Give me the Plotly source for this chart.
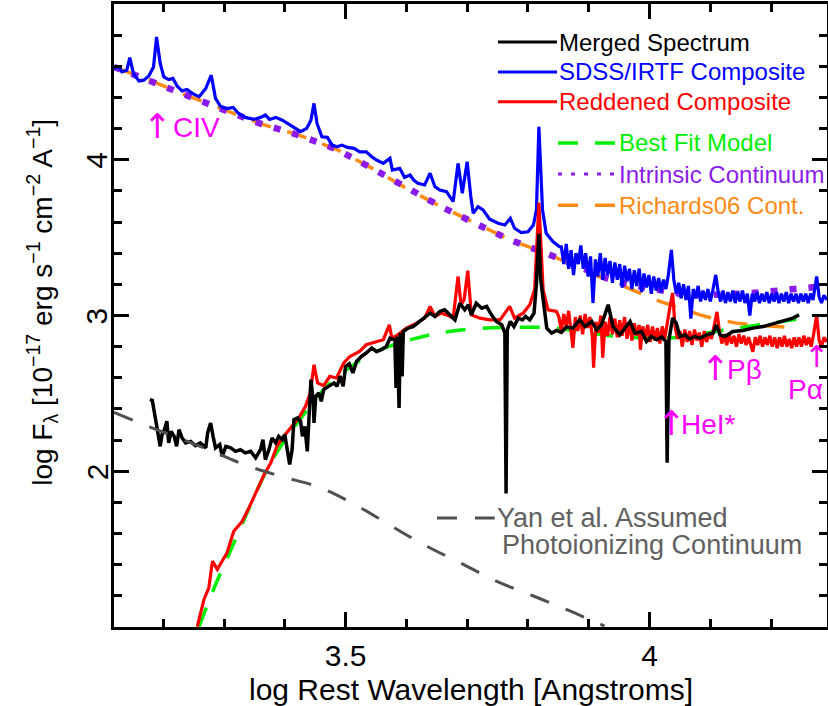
import plotly.graph_objects as go

# ---------------- data (log wavelength, log flux) ----------------
merged_x = [3.178, 3.182, 3.186, 3.190, 3.195, 3.198, 3.202, 3.206, 3.209, 3.213,
            3.218, 3.222, 3.226, 3.231, 3.237, 3.245, 3.253, 3.261, 3.270, 3.273,
            3.278, 3.282, 3.286, 3.293, 3.297, 3.303, 3.311, 3.319, 3.327, 3.335,
            3.344, 3.352, 3.360, 3.364, 3.368, 3.374, 3.379, 3.385, 3.390, 3.396,
            3.400, 3.404, 3.408, 3.412, 3.415, 3.421, 3.426, 3.429, 3.433, 3.437,
            3.440, 3.443, 3.447, 3.448, 3.451, 3.456, 3.460, 3.464, 3.472, 3.481,
            3.486, 3.491, 3.496, 3.500, 3.506, 3.512, 3.518, 3.526, 3.534, 3.543,
            3.551, 3.559, 3.567, 3.573, 3.581, 3.583, 3.585, 3.588, 3.590, 3.593,
            3.595, 3.603, 3.611, 3.622, 3.632, 3.639, 3.647, 3.655, 3.663, 3.671,
            3.680, 3.688, 3.696, 3.702, 3.707, 3.715, 3.724, 3.732, 3.740, 3.748,
            3.757, 3.762, 3.764, 3.766, 3.771, 3.777, 3.784, 3.791, 3.796, 3.803,
            3.810, 3.814, 3.818, 3.821, 3.826, 3.831, 3.839, 3.847, 3.855, 3.863,
            3.874, 3.885, 3.894, 3.905, 3.913, 3.921, 3.932, 3.940, 3.951, 3.959,
            3.968, 3.976, 3.987, 3.995, 4.003, 4.012, 4.020, 4.027, 4.029, 4.032,
            4.038, 4.044, 4.050, 4.058, 4.066, 4.074, 4.083, 4.094, 4.105, 4.110,
            4.116, 4.124, 4.137, 4.154, 4.170, 4.187, 4.203, 4.220, 4.236, 4.246]
merged_y = [2.460, 2.455, 2.364, 2.267, 2.160, 2.235, 2.267, 2.321, 2.182, 2.256,
            2.224, 2.160, 2.267, 2.214, 2.182, 2.192, 2.165, 2.182, 2.150, 2.246,
            2.310, 2.224, 2.150, 2.171, 2.096, 2.160, 2.150, 2.128, 2.139, 2.118,
            2.128, 2.086, 2.139, 2.203, 2.075, 2.139, 2.214, 2.182, 2.224, 2.203,
            2.235, 2.139, 2.043, 2.139, 2.331, 2.342, 2.321, 2.224, 2.288, 2.128,
            2.353, 2.588, 2.438, 2.310, 2.481, 2.502, 2.449, 2.524, 2.545, 2.567,
            2.545, 2.612, 2.545, 2.673, 2.690, 2.631, 2.705, 2.737, 2.759, 2.791,
            2.769, 2.780, 2.801, 2.855, 2.844, 2.535, 2.865, 2.406, 2.887, 2.609,
            2.897, 2.919, 2.929, 2.962, 2.994, 3.015, 2.994, 3.026, 3.037, 3.004,
            2.972, 3.079, 3.037, 3.069, 3.004, 3.079, 3.047, 3.058, 3.004, 2.962,
            2.940, 2.887, 1.857, 2.908, 2.962, 2.929, 2.983, 2.972, 2.994, 2.972,
            3.015, 3.208, 3.524, 3.229, 3.058, 2.919, 2.887, 2.904, 2.891, 2.926,
            2.919, 2.972, 2.929, 2.962, 2.908, 2.940, 3.069, 2.929, 2.876, 2.919,
            2.962, 2.887, 2.897, 2.833, 2.865, 2.844, 2.862, 2.833, 2.054, 2.844,
            2.983, 2.951, 2.865, 2.876, 2.849, 2.865, 2.855, 2.876, 2.887, 2.940,
            2.876, 2.865, 2.897, 2.904, 2.919, 2.929, 2.947, 2.962, 2.983, 3.004]

sdss_x = [3.119, 3.127, 3.132, 3.140, 3.145, 3.151, 3.160, 3.168, 3.176, 3.184,
          3.189, 3.195, 3.201, 3.209, 3.216, 3.223, 3.231, 3.239, 3.248, 3.259,
          3.270, 3.279, 3.286, 3.294, 3.305, 3.315, 3.324, 3.335, 3.349, 3.360,
          3.368, 3.375, 3.385, 3.396, 3.409, 3.418, 3.426, 3.436, 3.443, 3.448,
          3.453, 3.461, 3.470, 3.478, 3.486, 3.494, 3.503, 3.514, 3.523, 3.534,
          3.543, 3.551, 3.562, 3.573, 3.577, 3.589, 3.597, 3.606, 3.612, 3.619,
          3.630, 3.639, 3.647, 3.655, 3.666, 3.677, 3.685, 3.692, 3.700, 3.706,
          3.710, 3.718, 3.726, 3.737, 3.751, 3.762, 3.771, 3.778, 3.789, 3.800,
          3.809, 3.814, 3.818, 3.824, 3.830, 3.841, 3.852,
          3.855, 3.859, 3.863, 3.867, 3.871, 3.875, 3.879, 3.883, 3.887, 3.891,
          3.895, 3.899, 3.903, 3.907, 3.911, 3.915, 3.919, 3.923, 3.927, 3.931,
          3.935, 3.939, 3.943, 3.947, 3.951, 3.955, 3.959, 3.963, 3.967, 3.971,
          3.975, 3.979, 3.983, 3.987, 3.991, 3.995, 3.999, 4.003, 4.007, 4.011,
          4.015, 4.019, 4.023, 4.027, 4.031, 4.036, 4.040, 4.044, 4.048, 4.052,
          4.056, 4.060, 4.064, 4.068, 4.072, 4.076, 4.080, 4.084, 4.088, 4.092,
          4.096, 4.100, 4.104, 4.109, 4.113, 4.117, 4.121, 4.125, 4.129, 4.133,
          4.137, 4.141, 4.145, 4.149, 4.153, 4.157, 4.161, 4.165, 4.169, 4.173,
          4.177, 4.181, 4.185, 4.189, 4.193, 4.197, 4.201, 4.205, 4.209, 4.213,
          4.217, 4.221, 4.225, 4.229, 4.233, 4.237, 4.241, 4.245, 4.249, 4.253,
          4.257, 4.261, 4.265, 4.269, 4.275, 4.279, 4.283, 4.287, 4.292]
sdss_y = [4.586, 4.596, 4.564, 4.575, 4.656, 4.554, 4.506, 4.511, 4.536, 4.596,
          4.788, 4.618, 4.532, 4.515, 4.522, 4.472, 4.442, 4.451, 4.426, 4.404,
          4.458, 4.543, 4.394, 4.344, 4.329, 4.336, 4.297, 4.272, 4.259, 4.272,
          4.287, 4.259, 4.272, 4.254, 4.222, 4.201, 4.180, 4.201, 4.254, 4.362,
          4.233, 4.147, 4.144, 4.094, 4.083, 4.094, 4.079, 4.073, 4.051, 4.051,
          4.019, 3.998, 3.977, 4.009, 3.934, 3.945, 3.887, 3.902, 3.870, 3.849,
          3.838, 3.913, 3.827, 3.806, 3.795, 3.731, 3.977, 3.785, 3.987, 3.763,
          3.656, 3.699, 3.678, 3.618, 3.592, 3.581, 3.624, 3.560, 3.532, 3.538,
          3.581, 3.678, 4.212, 3.678, 3.528, 3.475, 3.442,
          3.440, 3.330, 3.460, 3.300, 3.420, 3.260, 3.400, 3.330, 3.450, 3.300,
          3.400, 3.250, 3.380, 3.080, 3.360, 3.250, 3.400, 3.230, 3.370, 3.260,
          3.350, 3.210, 3.340, 3.230, 3.330, 3.180, 3.320, 3.220, 3.300, 3.170,
          3.290, 3.190, 3.300, 3.150, 3.270, 3.180, 3.260, 3.140, 3.250, 3.160,
          3.240, 3.150, 3.230, 3.170, 3.260, 3.421, 3.230, 3.140, 3.210, 3.110,
          3.200, 3.100, 3.190, 2.980, 3.170, 3.110, 3.190, 3.090, 3.160, 3.100,
          3.170, 3.090, 3.160, 3.261, 3.150, 3.090, 3.160, 3.080, 3.150, 3.090,
          3.160, 3.080, 3.150, 3.090, 3.160, 3.080, 3.140, 3.000, 3.140, 3.090,
          3.150, 3.080, 3.140, 3.090, 3.150, 3.080, 3.140, 3.090, 3.150, 3.080,
          3.140, 3.090, 3.150, 3.080, 3.140, 3.090, 3.140, 3.080, 3.140, 3.090,
          3.140, 3.080, 3.140, 3.100, 3.250, 3.120, 3.080, 3.130, 3.100]

redd_x = [3.256, 3.267, 3.275, 3.281, 3.289, 3.305, 3.316, 3.330, 3.341, 3.355,
          3.366, 3.377, 3.387, 3.398, 3.409, 3.423, 3.434, 3.442, 3.448, 3.454,
          3.464, 3.474, 3.485, 3.497, 3.507, 3.523, 3.534, 3.545, 3.562, 3.572,
          3.576, 3.586, 3.600, 3.617, 3.630, 3.639, 3.647, 3.658, 3.666, 3.677,
          3.685, 3.690, 3.695, 3.701, 3.707, 3.721, 3.737, 3.754, 3.770, 3.778,
          3.792, 3.803, 3.811, 3.818, 3.825, 3.833, 3.847,
          3.851, 3.855, 3.859, 3.863, 3.867, 3.871, 3.874, 3.878, 3.882, 3.886,
          3.890, 3.894, 3.898, 3.902, 3.906, 3.908, 3.912, 3.916, 3.920, 3.923,
          3.927, 3.931, 3.935, 3.939, 3.943, 3.947, 3.951, 3.955, 3.959, 3.963,
          3.967, 3.971, 3.975, 3.979, 3.983, 3.985, 3.989, 3.993, 3.997, 4.001,
          4.005, 4.009, 4.013, 4.017, 4.021, 4.025, 4.029, 4.033, 4.038, 4.042,
          4.046, 4.050, 4.054, 4.058, 4.062, 4.066, 4.070, 4.074, 4.078, 4.082,
          4.086, 4.090, 4.094, 4.098, 4.102, 4.106, 4.111, 4.115, 4.119, 4.123,
          4.127, 4.131, 4.135, 4.139, 4.143, 4.147, 4.151, 4.155, 4.159, 4.163,
          4.167, 4.170, 4.174, 4.178, 4.182, 4.186, 4.190, 4.194, 4.198, 4.202,
          4.206, 4.210, 4.214, 4.218, 4.222, 4.226, 4.230, 4.234, 4.238, 4.242,
          4.246, 4.250, 4.254, 4.258, 4.262, 4.266, 4.270, 4.275, 4.279, 4.283,
          4.287, 4.292]
redd_y = [1.002, 1.177, 1.252, 1.423, 1.370, 1.477, 1.615, 1.679, 1.765, 1.883,
          1.979, 2.054, 2.160, 2.224, 2.278, 2.342, 2.417, 2.502, 2.684, 2.567,
          2.549, 2.609, 2.599, 2.695, 2.737, 2.769, 2.812, 2.823, 2.844, 2.940,
          2.855, 2.876, 2.919, 2.951, 2.983, 3.058, 2.994, 3.015, 3.004, 2.983,
          3.250, 3.069, 3.101, 3.288, 3.004, 2.983, 2.972, 2.972, 3.058, 2.983,
          3.015, 3.069, 3.165, 3.724, 3.165, 3.036, 3.026,
          2.990, 2.900, 3.010, 2.930, 3.030, 2.880, 2.793, 2.990, 2.900, 3.000,
          2.880, 3.010, 2.920, 2.990, 2.860, 2.665, 2.960, 2.890, 3.000, 2.729,
          2.960, 2.870, 2.990, 2.880, 2.980, 2.860, 2.970, 2.870, 2.990, 2.850,
          2.960, 2.840, 2.950, 2.870, 2.940, 2.780, 2.930, 2.850, 2.940, 2.830,
          2.930, 2.840, 2.920, 2.820, 2.930, 2.850, 2.960, 3.040, 3.145, 2.930,
          2.850, 2.900, 2.800, 2.910, 2.830, 2.900, 2.810, 2.910, 2.840, 2.890,
          2.800, 2.900, 2.830, 2.890, 2.850, 2.920, 3.023, 2.900, 2.820, 2.880,
          2.810, 2.880, 2.820, 2.870, 2.800, 2.880, 2.820, 2.870, 2.810, 2.860,
          2.800, 2.767, 2.860, 2.810, 2.870, 2.800, 2.860, 2.810, 2.870, 2.800,
          2.860, 2.790, 2.860, 2.800, 2.870, 2.800, 2.850, 2.790, 2.860, 2.800,
          2.860, 2.800, 2.870, 2.810, 2.860, 2.800, 2.880, 3.004, 2.840, 2.800,
          2.860, 2.830]

best_x = [3.259, 3.284, 3.308, 3.333, 3.355, 3.377, 3.404, 3.431, 3.459, 3.491,
          3.545, 3.617, 3.683, 3.765, 3.847, 3.935, 4.038, 4.116, 4.181, 4.236, 4.269]
best_y = [1.003, 1.253, 1.466, 1.690, 1.883, 2.056, 2.224, 2.364, 2.503, 2.620,
          2.759, 2.855, 2.904, 2.923, 2.919, 2.870, 2.857, 2.902, 2.940, 2.972, 2.990]

intr_x = [3.119, 3.181, 3.241, 3.300, 3.362, 3.423, 3.485, 3.541, 3.598, 3.654,
          3.713, 3.771, 3.832, 3.862, 3.890, 3.929, 3.964, 4.017, 4.050, 4.083,
          4.110, 4.149, 4.178, 4.209, 4.241, 4.272, 4.292]
intr_y = [4.596, 4.505, 4.410, 4.319, 4.229, 4.158, 4.067, 3.951, 3.821, 3.705,
          3.592, 3.485, 3.396, 3.346, 3.299, 3.240, 3.200, 3.160, 3.140, 3.130,
          3.130, 3.140, 3.147, 3.158, 3.171, 3.182, 3.190]

rich_x = [3.119, 3.181, 3.241, 3.300, 3.362, 3.423, 3.485, 3.541, 3.598, 3.654,
          3.713, 3.771, 3.832, 3.862, 3.929, 3.964, 4.017, 4.050, 4.083, 4.110,
          4.143, 4.181, 4.214, 4.247]
rich_y = [4.596, 4.505, 4.410, 4.319, 4.229, 4.158, 4.067, 3.951, 3.821, 3.705,
          3.592, 3.485, 3.396, 3.346, 3.229, 3.178, 3.090, 3.049, 3.004, 2.977,
          2.951, 2.936, 2.926, 2.921]

yan_x = [3.119, 3.185, 3.267, 3.333, 3.393, 3.459, 3.515, 3.573, 3.628, 3.688,
         3.748, 3.809, 3.869, 3.926]
yan_y = [2.378, 2.273, 2.150, 2.043, 1.968, 1.894, 1.787, 1.654, 1.530, 1.413,
         1.295, 1.199, 1.103, 1.006]

y_tick_vals = [2, 3, 4]
x_tick_vals = [3.5, 4.0]
x_tick_text = ["3.5", "4"]

# line-identification labels: (arrow x, label text, text x, y)
line_ids = [
    (3.190, "CIV", 3.212, 4.209),
    (4.036, "HeI*", 4.049, 2.300),
    (4.109, "Pβ", 4.124, 2.652),
]
pa_arrow = (4.275, 2.735)
pa_text = ("Pα", 4.257, 2.524)

legend_items = [
    ("Merged Spectrum", "black", "solid", 3),
    ("SDSS/IRTF Composite", "#0000FF", "solid", 3),
    ("Reddened Composite", "#FF0000", "solid", 3),
    ("Best Fit Model", "#00EE00", "20px,17px", 3.5),
    ("Intrinsic Continuum", "#8A1BEA", "4px,9px", 3),
    ("Richards06 Cont.", "#FF8A14", "20px,17px", 3.5),
]

# ---------------- figure ----------------
FONT = "Liberation Sans, Arial, Helvetica, sans-serif"
ORANGE = "#FF8A14"
PURPLE = "#8A1BEA"
GREEN = "#00EE00"
GREY = "#505050"
MAGENTA = "#FF00FF"

fig = go.Figure()
fig.add_trace(go.Scatter(x=rich_x, y=rich_y, mode="lines",
                         line=dict(color=ORANGE, width=3.5, dash="20px,17px")))
fig.add_trace(go.Scatter(x=intr_x, y=intr_y, mode="lines",
                         line=dict(color=PURPLE, width=6.5, dash="7px,12px")))
fig.add_trace(go.Scatter(x=best_x, y=best_y, mode="lines", line_shape="spline",
                         line=dict(color=GREEN, width=3.5, dash="20px,17px")))
fig.add_trace(go.Scatter(x=sdss_x, y=sdss_y, mode="lines",
                         line=dict(color="#0000FF", width=3.2)))
fig.add_trace(go.Scatter(x=redd_x, y=redd_y, mode="lines",
                         line=dict(color="#FF0000", width=3.2)))
fig.add_trace(go.Scatter(x=merged_x, y=merged_y, mode="lines",
                         line=dict(color="black", width=3.5)))
fig.add_trace(go.Scatter(x=yan_x, y=yan_y, mode="lines", line_shape="spline",
                         line=dict(color=GREY, width=3, dash="20px,18px")))

annotations = []
shapes = []

# legend (upper right)
leg_rows_y = [0.939, 0.891, 0.843, 0.777, 0.727, 0.677]
for i, (name, col, dash, w) in enumerate(legend_items):
    if i < 3:
        x0, x1 = 0.5386, 0.6213
    else:
        x0, x1 = 0.6227, 0.7055
    shapes.append(dict(type="line", xref="paper", yref="paper", x0=x0, x1=x1,
                       y0=leg_rows_y[i], y1=leg_rows_y[i],
                       line=dict(color=col, width=w, dash=dash)))
    annotations.append(dict(xref="paper", yref="paper", x=x1, y=leg_rows_y[i],
                            xanchor="left", yanchor="middle", showarrow=False,
                            text=name, font=dict(family=FONT, size=24, color=col)))

# Yan et al. label
shapes.append(dict(type="line", xref="paper", yref="paper", x0=0.453, x1=0.534,
                   y0=0.175, y1=0.175, line=dict(color=GREY, width=3, dash="20px,18px")))
annotations.append(dict(xref="paper", yref="paper", x=0.534, y=0.175, xanchor="left",
                        yanchor="middle", showarrow=False, text="Yan et al. Assumed",
                        font=dict(family=FONT, size=27, color="#606060")))
annotations.append(dict(xref="paper", yref="paper", x=0.542, y=0.131, xanchor="left",
                        yanchor="middle", showarrow=False, text="Photoionizing Continuum",
                        font=dict(family=FONT, size=27, color="#606060")))

# line identifications
ARROWFONT = "DejaVu Sans, sans-serif"
for ax_, txt, tx, ty in line_ids:
    annotations.append(dict(x=ax_, y=ty + 0.01, xanchor="center", yanchor="middle",
                            showarrow=False, text="↑",
                            font=dict(family=ARROWFONT, size=34, color=MAGENTA)))
    annotations.append(dict(x=tx, y=ty, xanchor="left", yanchor="middle",
                            showarrow=False, text=txt,
                            font=dict(family=FONT, size=28, color=MAGENTA)))
annotations.append(dict(x=pa_arrow[0], y=pa_arrow[1], xanchor="center", yanchor="middle",
                        showarrow=False, text="↑",
                        font=dict(family=ARROWFONT, size=30, color=MAGENTA)))
annotations.append(dict(x=pa_text[1], y=pa_text[2], xanchor="center", yanchor="middle",
                        showarrow=False, text=pa_text[0],
                        font=dict(family=FONT, size=28, color=MAGENTA)))

# rotated y tick labels
for v in y_tick_vals:
    annotations.append(dict(xref="paper", yref="y", x=-0.024, y=v, xanchor="center",
                            yanchor="middle", showarrow=False, textangle=-90,
                            text=str(v), font=dict(family=FONT, size=30, color="black")))

# axis titles
annotations.append(dict(xref="paper", yref="paper", x=0.5, y=-0.1005, xanchor="center",
                        yanchor="middle", showarrow=False,
                        text="log Rest Wavelength [Angstroms]",
                        font=dict(family=FONT, size=30, color="black")))
annotations.append(dict(xref="paper", yref="paper", x=-0.101, y=0.522, xanchor="center",
                        yanchor="middle", showarrow=False, textangle=-90,
                        text="log F<sub>λ</sub> [10<sup>−17</sup> erg s<sup>−1</sup> cm<sup>−2</sup> A<sup>−1</sup>]",
                        font=dict(family=FONT, size=28, color="black")))

fig.update_layout(
    width=828, height=706,
    margin=dict(l=114, r=1, t=4, b=79, autoexpand=False),
    plot_bgcolor="white", paper_bgcolor="white",
    showlegend=False,
    annotations=annotations,
    shapes=shapes,
)
fig.update_xaxes(
    automargin=False,
    range=[3.119, 4.292], tickvals=x_tick_vals, ticktext=x_tick_text,
    ticks="inside", ticklen=15, tickwidth=2.5, tickcolor="black",
    minor=dict(tick0=0, dtick=0.1, ticks="inside", ticklen=8, tickwidth=2.5,
               tickcolor="black", showgrid=False),
    showline=True, linewidth=3, linecolor="black", mirror="allticks",
    showgrid=False, zeroline=False,
    tickfont=dict(family=FONT, size=30, color="black"),
)
fig.update_yaxes(
    automargin=False,
    range=[1.0, 5.0], tickvals=y_tick_vals, showticklabels=False,
    ticks="inside", ticklen=15, tickwidth=2.5, tickcolor="black",
    minor=dict(tick0=0, dtick=0.2, ticks="inside", ticklen=8, tickwidth=2.5,
               tickcolor="black", showgrid=False),
    showline=True, linewidth=3, linecolor="black", mirror="allticks",
    showgrid=False, zeroline=False,
)

fig.write_html("out.html", config={"displayModeBar": False},
               post_script="document.body.style.margin='0';document.body.style.padding='0';")
